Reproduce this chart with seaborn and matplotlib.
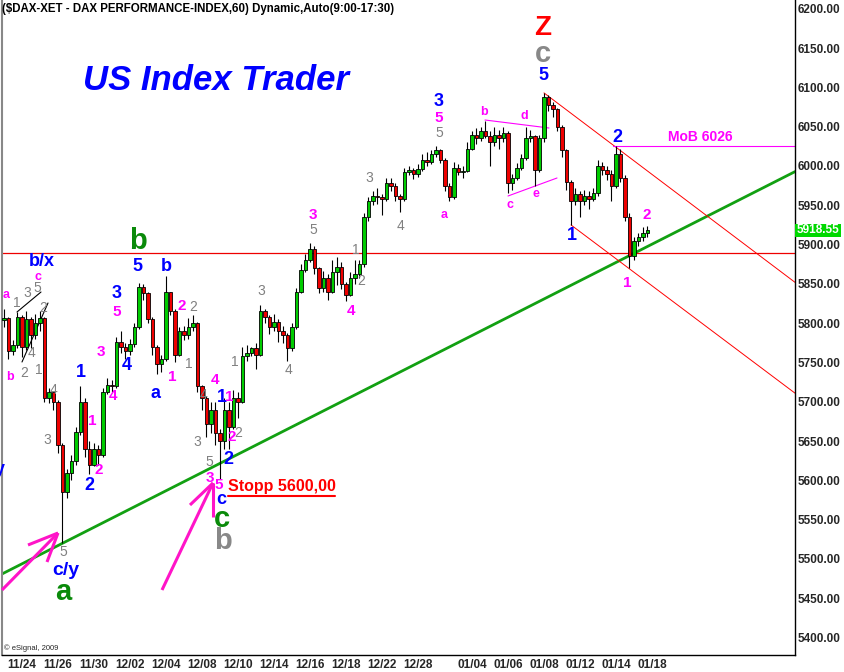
import numpy as np
import pandas as pd
import matplotlib
matplotlib.use("Agg")
import matplotlib.pyplot as plt
from matplotlib.patches import Rectangle
import seaborn as sns

# hourly candles, one entry per bar (bar index = position on the x axis)
first_open = 5804
closes = [5806, 5765, 5772, 5808, 5770, 5805, 5785, 5800, 5806, 5705,
          5712, 5700, 5645, 5585, 5610, 5625, 5662, 5700, 5640, 5620,
          5640, 5632, 5712, 5722, 5720, 5776, 5770, 5765, 5774, 5795,
          5846, 5838, 5805, 5770, 5748, 5755, 5840, 5815, 5760, 5790,
          5785, 5795, 5800, 5720, 5705, 5672, 5690, 5660, 5650, 5690,
          5668, 5705, 5700, 5758, 5762, 5768, 5760, 5815, 5808, 5795,
          5802, 5790, 5785, 5768, 5795, 5840, 5868, 5880, 5895, 5870,
          5845, 5858, 5840, 5865, 5872, 5850, 5836, 5858, 5862, 5875,
          5935, 5955, 5962, 5960, 5958, 5978, 5975, 5962, 5958, 5992,
          5995, 5990, 5996, 6008, 6005, 6015, 6020, 6008, 5975, 5960,
          5998, 5992, 5994, 6022, 6040, 6035, 6045, 6038, 6030, 6040,
          6035, 6042, 5978, 5985, 5998, 6010, 6035, 6038, 5995, 6035,
          6088, 6078, 6072, 6050, 6020, 5980, 5955, 5965, 5955, 5962,
          5958, 5966, 6000, 5995, 5990, 5975, 6015, 5985, 5935, 5885,
          5905, 5910, 5915, 5918.55]
highs = [5818, 5808, 5778, 5814, 5810, 5815, 5808, 5812, 5815, 5808,
         5718, 5712, 5702, 5648, 5615, 5632, 5668, 5720, 5705, 5650,
         5648, 5645, 5718, 5730, 5728, 5782, 5790, 5775, 5780, 5800,
         5851, 5850, 5840, 5808, 5772, 5760, 5860, 5838, 5818, 5795,
         5797, 5806, 5811, 5802, 5722, 5708, 5700, 5700, 5665, 5705,
         5700, 5715, 5712, 5770, 5772, 5770, 5775, 5823, 5818, 5810,
         5812, 5805, 5796, 5788, 5800, 5845, 5875, 5888, 5902, 5898,
         5872, 5866, 5862, 5880, 5884, 5878, 5852, 5865, 5880, 5880,
         5940, 5960, 5968, 5972, 5965, 5985, 5985, 5978, 5965, 5998,
         6000, 5998, 6003, 6015, 6018, 6020, 6026, 6022, 6010, 5978,
         6005, 6002, 6000, 6030, 6045, 6048, 6050, 6057, 6045, 6050,
         6046, 6050, 6044, 5990, 6004, 6015, 6050, 6046, 6040, 6040,
         6093, 6090, 6082, 6074, 6052, 6022, 5982, 5972, 5968, 5970,
         5968, 5972, 6008, 6005, 6000, 5995, 6026, 6022, 5988, 5940,
         5910, 5915, 5922, 5924]
lows = [5795, 5755, 5760, 5768, 5757, 5766, 5768, 5780, 5790, 5700,
        5698, 5690, 5635, 5520, 5578, 5600, 5620, 5658, 5630, 5608,
        5618, 5620, 5630, 5710, 5712, 5718, 5762, 5755, 5760, 5770,
        5792, 5830, 5800, 5760, 5735, 5738, 5752, 5810, 5750, 5758,
        5778, 5780, 5790, 5712, 5690, 5655, 5660, 5645, 5602, 5640,
        5640, 5665, 5680, 5698, 5752, 5758, 5742, 5758, 5800, 5786,
        5790, 5776, 5775, 5752, 5765, 5792, 5838, 5865, 5878, 5862,
        5838, 5840, 5830, 5838, 5848, 5843, 5828, 5834, 5850, 5858,
        5872, 5930, 5950, 5952, 5938, 5955, 5968, 5955, 5942, 5955,
        5988, 5984, 5986, 5994, 6000, 6002, 6012, 6004, 5968, 5955,
        5958, 5988, 5985, 5992, 6020, 6028, 6032, 6035, 6000, 6025,
        6022, 6030, 5966, 5970, 5982, 5995, 6008, 6030, 5975, 5992,
        6030, 6070, 6062, 6045, 6012, 5970, 5925, 5950, 5935, 5950,
        5945, 5955, 5962, 5988, 5982, 5955, 5972, 5980, 5930, 5870,
        5880, 5898, 5905, 5910]

date_ticks = [4, 12, 20, 28, 36, 44, 52, 60, 68, 76, 84, 92,
              104, 112, 120, 128, 136, 144]
date_labels = ["11/24", "11/26", "11/30", "12/02", "12/04", "12/08", "12/10",
               "12/14", "12/16", "12/18", "12/22", "12/28",
               "01/04", "01/06", "01/08", "01/12", "01/14", "01/18"]
price_ticks = list(range(5400, 6201, 50))

trend_points = [(13, 5520), (139, 5886)]       # green support line
channel_start_top = (120, 6093)
channel_start_low = (126, 5925)
channel_end_top = 5852                          # level at the right edge
channel_end_low = 5711
red_level = 5889
mob_level = 6026
last_price = 5918.55

# pixel -> data helpers (annotations are placed from screen positions)
PX0, PXS = 4.0, 4.5
def px_x(px):
    return (px - PX0) / PXS
def px_y(py):
    return 6211.2 - 1.2723 * py

W, H = 844, 672
sns.set_style("white")
plt.rcParams['font.family'] = ['Liberation Sans', 'DejaVu Sans']

fig = plt.figure(figsize=(W / 100, H / 100), dpi=100)
ax = fig.add_axes([2 / W, 17 / H, 793 / W, 655 / H])
x_left, x_right = px_x(2), px_x(795)
ax.set_xlim(x_left, x_right)
ax.set_ylim(px_y(655), px_y(0))

df = pd.DataFrame({"close": closes, "high": highs, "low": lows})
df["open"] = [first_open] + closes[:-1]
df["x"] = np.arange(len(df))
df["high"] = df[["high", "open", "close"]].max(axis=1)
df["low"] = df[["low", "open", "close"]].min(axis=1)

# reference lines
GREEN_LINE = "#12a012"
(tx0, ty0), (tx1, ty1) = trend_points
slope = (ty1 - ty0) / (tx1 - tx0)
sns.lineplot(x=[x_left, x_right],
             y=[ty0 + slope * (x_left - tx0), ty0 + slope * (x_right - tx0)],
             ax=ax, color=GREEN_LINE, linewidth=2.0, zorder=1)
sns.lineplot(x=[x_left, x_right], y=[red_level, red_level], ax=ax,
             color="#ee0000", linewidth=0.9, zorder=1)
sns.lineplot(x=[channel_start_top[0], x_right], y=[channel_start_top[1], channel_end_top],
             ax=ax, color="#ff0000", linewidth=0.7, zorder=1)
sns.lineplot(x=[channel_start_low[0], x_right], y=[channel_start_low[1], channel_end_low],
             ax=ax, color="#ff0000", linewidth=0.7, zorder=1)
sns.lineplot(x=[px_x(613), x_right], y=[mob_level, mob_level], ax=ax,
             color="#ff00ff", linewidth=0.8, zorder=1)

# small pattern lines
for (a, b), col in [(((17, 312), (41, 292)), "black"), (((22, 362), (48, 303)), "black"),
                    (((485, 120), (549, 128)), "#ff00ff"), (((508, 196), (557, 178)), "#ff00ff")]:
    ax.plot([px_x(a[0]), px_x(b[0])], [px_y(a[1]), px_y(b[1])], color=col, lw=0.8, zorder=1)

# candles
ax.vlines(df["x"], df["low"], df["high"], color="black", linewidth=0.8, zorder=2)
up = df["close"] >= df["open"]
body_h = (df["close"] - df["open"]).abs().clip(lower=1.2)
body_b = df[["open", "close"]].min(axis=1)
ax.bar(df["x"][up], body_h[up], bottom=body_b[up], width=0.72, color="#00cc00",
       edgecolor="black", linewidth=0.6, zorder=3)
ax.bar(df["x"][~up], body_h[~up], bottom=body_b[~up], width=0.72, color="#ee0000",
       edgecolor="black", linewidth=0.6, zorder=3)

# pink arrows
PINK = "#ff14c8"
arrows = [[(2, 590), (58, 533)], [(28, 545), (58, 533)], [(47, 562), (58, 533)],
          [(162, 590), (213, 483)], [(190, 505), (213, 483)], [(213, 517), (213, 483)]]
for (a, b) in arrows:
    ax.plot([px_x(a[0]), px_x(b[0])], [px_y(a[1]), px_y(b[1])], color=PINK, lw=2.2,
            solid_capstyle="butt", zorder=4, clip_on=False)

# wave labels
B, M, G, GR, R, GY = "#0000ff", "#ff00ff", "#808080", "#0a8a0a", "#ff0000", "#888888"
wave_labels = [
    (6, 295, "a", M, 9), (10, 377, "b", M, 9), (17, 303, "1", G, 10), (27, 293, "3", G, 10),
    (37, 288, "5", G, 10), (38, 277, "c", M, 9), (42, 261, "b/x", B, 13), (43, 308, "2", G, 10),
    (32, 353, "4", G, 10), (24, 373, "2", G, 10), (39, 370, "1", G, 10), (54, 390, "4", G, 10),
    (47, 440, "3", G, 10), (63, 552, "5", G, 10), (66, 570, "c/y", B, 14), (63, 592, "a", GR, 21),
    (81, 372, "1", B, 13), (89, 485, "2", B, 13), (92, 421, "1", M, 11), (99, 470, "2", M, 11),
    (101, 352, "3", M, 11), (113, 396, "4", M, 11), (117, 293, "3", B, 13), (117, 312, "5", M, 11),
    (127, 366, "4", B, 13), (138, 241, "b", GR, 21), (137, 266, "5", B, 13), (166, 266, "b", B, 13),
    (156, 393, "a", B, 13), (172, 377, "1", M, 11), (182, 306, "2", M, 11), (193, 307, "2", G, 10),
    (189, 364, "1", G, 10), (204, 395, "4", G, 10), (215, 380, "4", M, 11), (222, 398, "1", B, 13),
    (229, 397, "1", M, 11), (197, 442, "3", G, 10), (209, 462, "5", G, 10), (232, 437, "2", M, 11),
    (228, 460, "2", B, 13), (238, 433, "2", G, 10), (235, 362, "1", G, 10), (210, 478, "3", M, 11),
    (219, 485, "5", M, 11), (221, 500, "c", B, 13), (222, 519, "c", GR, 21), (223, 541, "b", GY, 21),
    (261, 291, "3", G, 10), (289, 370, "4", G, 10), (313, 215, "3", M, 11), (313, 230, "5", G, 10),
    (356, 250, "1", G, 10), (361, 281, "2", G, 10), (351, 311, "4", M, 11), (369, 178, "3", G, 10),
    (401, 226, "4", G, 10), (439, 101, "3", B, 13), (439, 118, "5", M, 11), (439, 133, "5", G, 10),
    (444, 215, "a", M, 9), (484, 112, "b", M, 9), (524, 116, "d", M, 9), (510, 205, "c", M, 9),
    (536, 194, "e", M, 9), (543, 28, "Z", R, 20), (543, 54, "c", GY, 21), (543, 75, "5", B, 13),
    (572, 236, "1", B, 13), (617, 137, "2", B, 13), (627, 283, "1", M, 11), (647, 215, "2", M, 11),
    (0, 470, "y", B, 13),
]
for px, py, txt, col, size in wave_labels:
    weight = "normal" if col == G else "bold"
    ax.text(px_x(px), px_y(py), txt, color=col, fontsize=size, fontweight=weight,
            ha="center", va="center", zorder=5)

# other texts
ax.text(px_x(2), px_y(9), "($DAX-XET - DAX PERFORMANCE-INDEX,60) Dynamic,Auto(9:00-17:30)",
        fontsize=8.3, fontweight="bold", ha="left", va="center", color="black")
ax.text(px_x(216), px_y(80), "US Index Trader", fontsize=25, fontweight="bold",
        fontstyle="italic", color="#0000ff", ha="center", va="center")
ax.text(px_x(228), px_y(487), "Stopp 5600,00", fontsize=11.5, fontweight="bold",
        color="#ff0000", ha="left", va="center")
ax.plot([px_x(228), px_x(335)], [px_y(496), px_y(496)], color="#ff0000", lw=1.5)
ax.text(px_x(700), px_y(137), "MoB 6026", fontsize=10, fontweight="bold",
        color="#ff00ff", ha="center", va="center")
ax.text(px_x(4), px_y(648), "\u00a9 eSignal, 2009", fontsize=5.5, ha="left", va="center")

# axes styling
ax.yaxis.tick_right()
ax.set_yticks(price_ticks)
ax.set_yticklabels([f"{v:.2f}" for v in price_ticks], fontsize=8.5, fontweight="bold")
ax.set_xticks(date_ticks)
ax.set_xticklabels(date_labels, fontsize=8.5, fontweight="bold")
ax.tick_params(axis="both", length=0, pad=2)
ax.tick_params(axis="x", pad=3)
ax.spines["top"].set_visible(False)
ax.spines["left"].set_color("#888888")
ax.spines["left"].set_linewidth(1.5)
for s in ("right", "bottom"):
    ax.spines[s].set_color("black")
    ax.spines[s].set_linewidth(1.0)
ax.set_xlabel("")
ax.set_ylabel("")

# last price box
fig.patches.append(Rectangle((795 / W, 1 - 237 / H), 46 / W, 13 / H,
                             transform=fig.transFigure, facecolor="#00d800",
                             edgecolor="none"))
fig.text(818 / W, 1 - 230.5 / H, f"{last_price:.2f}", color="white", fontsize=8.5,
         fontweight="bold", ha="center", va="center")

fig.savefig("out.png", dpi=100)
